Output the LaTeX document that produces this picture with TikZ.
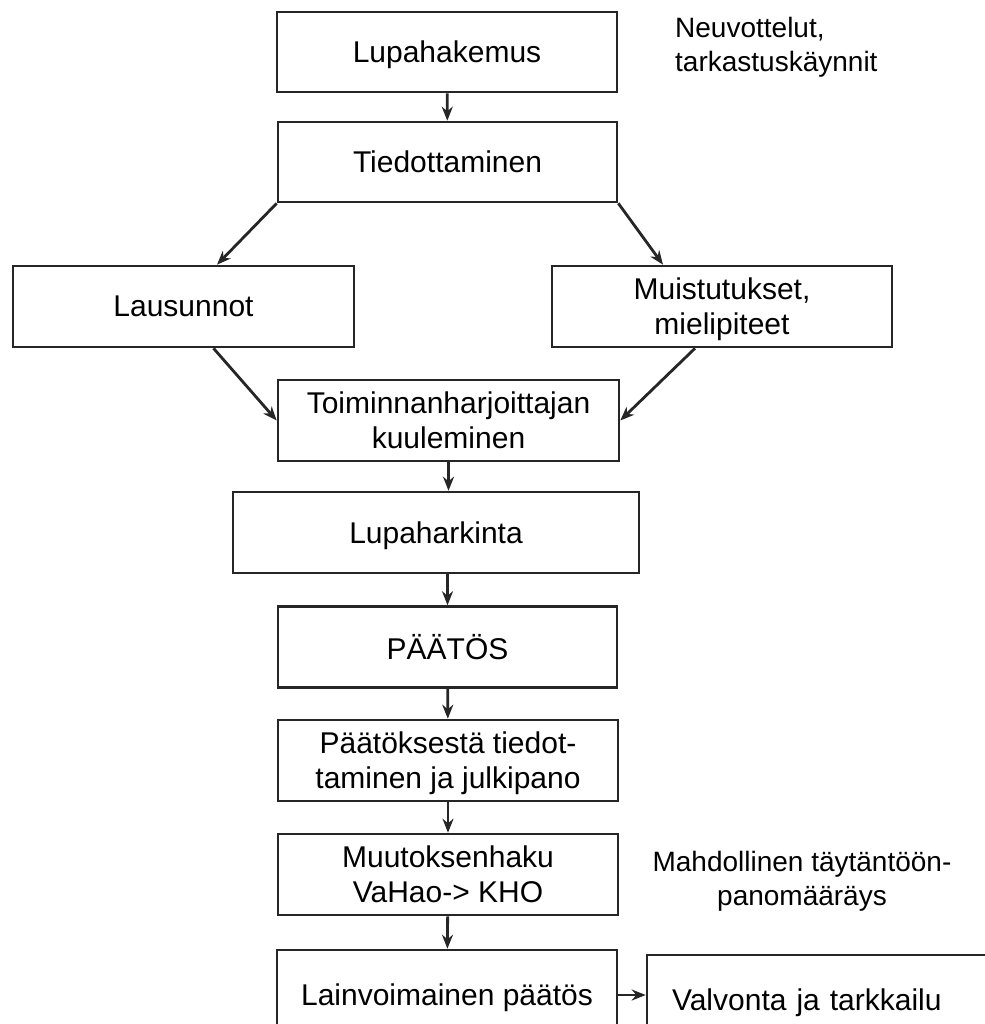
\documentclass[tikz,border=0pt]{standalone}
\usepackage{fontspec}
\setmainfont{Liberation Sans}
\usetikzlibrary{arrows.meta}
\begin{document}
\begin{tikzpicture}[x=1pt,y=-1pt,
  box/.style={draw=black!85, line width=2.6pt, inner sep=0pt, text depth=0pt, align=center, font=\fontsize{30}{35}\selectfont},
  arr/.style={-{Stealth[open,length=14pt,width=11pt]}, line width=2.8pt, draw=black!85},
  note/.style={inner sep=0pt, font=\fontsize{28}{34}\selectfont}]
\useasboundingbox (0,0) rectangle (984,1024);

\node[box, minimum width=340pt, minimum height=80pt] (hak) at (447,52) {Lupahakemus};
\node[box, minimum width=339pt, minimum height=80pt] (tied) at (447.5,162) {Tiedottaminen};
\node[box, minimum width=341pt, minimum height=81pt] (laus) at (183.5,306.5) {Lausunnot};
\node[box, minimum width=340pt, minimum height=81pt] (muis) at (722,306.5) {Muistutukset,\\mielipiteet};
\node[box, minimum width=341pt, minimum height=81pt] (kuul) at (448.5,420.5) {Toiminnanharjoittajan\\kuuleminen};
\node[box, minimum width=406pt, minimum height=81pt] (hark) at (436,532.5) {Lupaharkinta};
\node[box, minimum width=339pt, minimum height=81pt] (paat) at (447.5,647) {PÄÄTÖS};
\node[box, minimum width=340pt, minimum height=81pt] (julk) at (448,760.5) {Päätöksestä tiedot-\\taminen ja julkipano};
\node[box, minimum width=340pt, minimum height=81pt] (haku) at (448,874.5) {Muutoksenhaku\\VaHao-> KHO};
\node[box, minimum width=340pt, minimum height=90pt] (lain) at (447,995) {Lainvoimainen päätös};
\node[box, minimum height=90pt, text width=320pt, inner xsep=25pt, align=left] (valv) at (832,1000) {Valvonta ja tarkkailu};

\node[note, anchor=north west, align=left] (neuv) at (675,17) {Neuvottelut,\\tarkastuskäynnit};
\node[note, anchor=north, align=center] (mahd) at (802,851) {Mahdollinen täytäntöön-\\panomääräys};

\draw[arr] (hak) -- (tied);
\draw[arr] (tied.south west) -- ([xshift=33.5pt]laus.north);
\draw[arr] (tied.south east) -- ([xshift=-59pt]muis.north);
\draw[arr] ([xshift=30pt]laus.south) -- (kuul.west);
\draw[arr] ([xshift=-27pt]muis.south) -- (kuul.east);
\draw[arr] (kuul) -- (kuul |- hark.north);
\draw[arr] (hark.south -| paat) -- (paat);
\draw[arr] (paat) -- (julk);
\draw[arr] (julk) -- (haku);
\draw[arr] (haku) -- (lain);
\draw[arr] (lain.east) -- (lain.east -| valv.west);
\end{tikzpicture}
\end{document}
